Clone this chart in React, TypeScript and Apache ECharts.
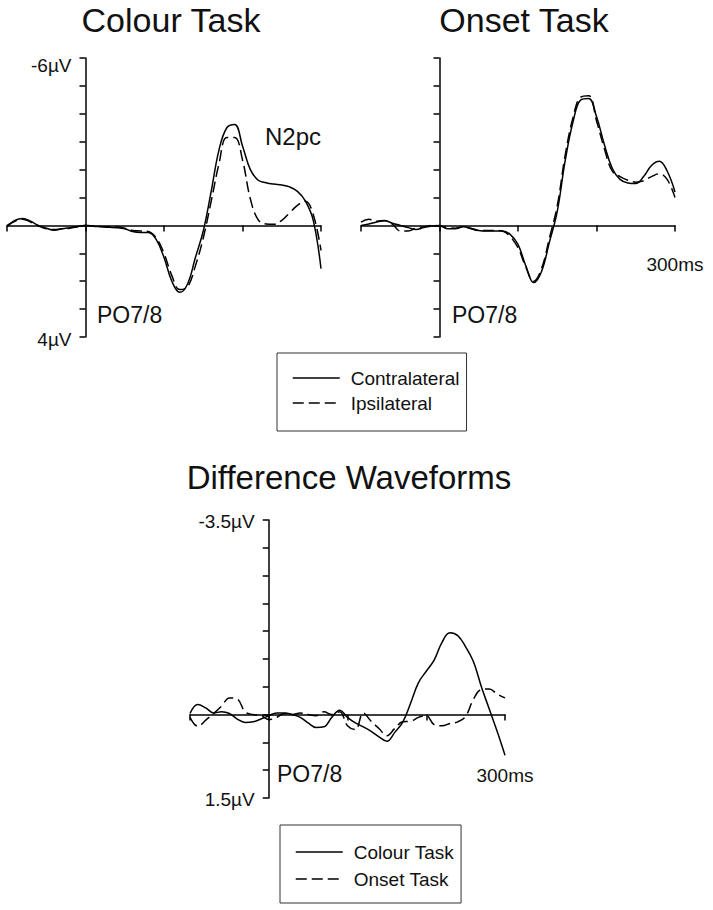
import React, { useEffect, useRef } from "react";
import * as echarts from "echarts";

// time points (ms)
const timeMs = [
  -100, -90, -80, -70, -60, -50, -40, -30, -20, -10, 0, 10, 20, 30, 40, 50, 60, 70, 80, 90, 100,
  110, 120, 130, 140, 150, 160, 170, 180, 190, 200, 210, 220, 230, 240, 250, 260, 270, 280, 290, 300,
];

// Colour Task (µV, negative plotted upward)
const colourContra = [
  0.05, -0.18, -0.25, -0.15, 0.0, 0.1, 0.17, 0.12, 0.08, 0.04, 0.0, 0.03, 0.05, 0.07, 0.08, 0.12, 0.22, 0.25, 0.25, 0.5, 1.15,
  2.0, 2.4, 2.1, 1.15, 0.2, -1.2, -2.7, -3.5, -3.62, -2.85, -2.0, -1.62, -1.53, -1.48, -1.45, -1.38, -1.22, -0.88, -0.2, 1.55,
];
const colourIpsi = [
  0.0, -0.15, -0.22, -0.12, 0.02, 0.12, 0.15, 0.12, 0.1, 0.05, 0.0, 0.02, 0.04, 0.05, 0.06, 0.1, 0.18, 0.2, 0.22, 0.45, 1.0,
  1.8, 2.3, 2.2, 1.45, 0.45, -0.85, -2.2, -3.15, -3.15, -2.35, -0.95, -0.2, -0.05, -0.04, -0.18, -0.45, -0.72, -0.87, -0.4, 0.9,
];

// Onset Task
const onsetContra = [
  0.0, -0.05, -0.12, -0.17, -0.08, 0.0, 0.08, 0.15, 0.08, 0.02, 0.0, 0.12, 0.12, 0.05, 0.1, 0.18, 0.2, 0.2, 0.2, 0.32, 0.68,
  1.45, 2.05, 1.65, 0.6, -0.5, -2.3, -3.7, -4.5, -4.55, -3.9, -2.9, -2.05, -1.65, -1.52, -1.5, -1.75, -2.15, -2.3, -1.95, -1.2,
];
const onsetIpsi = [
  -0.12, -0.22, -0.15, -0.18, -0.05, 0.2, 0.2, 0.1, 0.05, 0.0, 0.02, 0.08, 0.1, 0.05, 0.12, 0.18, 0.18, 0.18, 0.2, 0.4, 0.8,
  1.5, 2.0, 1.55, 0.45, -0.7, -2.5, -3.85, -4.6, -4.65, -3.75, -2.75, -1.95, -1.75, -1.62, -1.55, -1.6, -1.75, -1.85, -1.65, -1.0,
];

// Difference waveforms
const diffColour = [
  -0.02, -0.18, -0.12, -0.03, -0.05, -0.02, 0.08, 0.14, 0.13, 0.08, 0.02, -0.03, -0.03, 0.0, 0.05, 0.15, 0.23, 0.22, 0.05, -0.08, 0.05,
  0.15, 0.22, 0.3, 0.4, 0.48, 0.32, 0.14, -0.2, -0.57, -0.78, -0.98, -1.3, -1.47, -1.42, -1.22, -0.95, -0.5, -0.1, 0.3, 0.73,
];
const diffOnset = [
  0.05, 0.21, 0.1, -0.02, -0.15, -0.3, -0.28, -0.05, 0.0, 0.02, 0.09, 0.05, -0.02, 0.0, -0.03, 0.0, 0.02, -0.05, 0.0, -0.05, 0.2,
  0.27, -0.03, 0.12, 0.25, 0.38, 0.25, 0.13, 0.12, 0.05, 0.02, 0.18, 0.2, 0.16, 0.13, 0.03, -0.28, -0.45, -0.46, -0.37, -0.3,
];

const FONT = "'Liberation Sans', Arial, Helvetica, sans-serif";
const INK = "#111";
const DASH = [11, 5];
const T_MIN = -100;
const T_MAX = 300;

const GRIDS = [
  { left: 7, top: 58, width: 314, height: 279 },
  { left: 361, top: 58, width: 314, height: 279 },
  { left: 190, top: 520, width: 315, height: 278 },
];

const pairs = (vals: number[]) => timeMs.map((t, i) => [t, vals[i]]);

function lineSeries(name: string, vals: number[], idx: number, dashed: boolean) {
  return {
    type: "line",
    name,
    xAxisIndex: idx,
    yAxisIndex: idx,
    data: pairs(vals),
    symbol: "none",
    showSymbol: false,
    smooth: 0.4,
    silent: true,
    lineStyle: { color: "#000", width: 1.5, type: dashed ? DASH : "solid" },
    itemStyle: { color: "#000" },
  };
}

// x axis drawn at y = 0 (value axis inverse: min at top)
function xAxis(idx: number, vMin: number, vMax: number, label: string | null, margin: number) {
  const g = GRIDS[idx];
  const zeroFromBottom = ((vMax - 0) / (vMax - vMin)) * g.height;
  return {
    gridIndex: idx,
    type: "value",
    min: T_MIN,
    max: T_MAX,
    interval: 100,
    position: "bottom",
    offset: -zeroFromBottom,
    axisLine: { show: true, onZero: false, lineStyle: { color: "#000", width: 1.5 } },
    axisTick: { show: true, length: 6, lineStyle: { color: "#000", width: 1.5 } },
    axisLabel: {
      show: label !== null,
      showMaxLabel: true,
      showMinLabel: true,
      margin,
      fontSize: 19,
      fontFamily: FONT,
      color: INK,
      formatter: (v: number) => (v === T_MAX && label ? label : ""),
    },
    splitLine: { show: false },
  };
}

function yAxis(
  idx: number,
  min: number,
  max: number,
  interval: number,
  labels: { min: string; max: string } | null,
  padTop: number,
  padBottom: number
) {
  const g = GRIDS[idx];
  const zeroFromLeft = ((0 - T_MIN) / (T_MAX - T_MIN)) * g.width;
  return {
    gridIndex: idx,
    type: "value",
    min,
    max,
    interval,
    inverse: true,
    position: "left",
    offset: -zeroFromLeft,
    axisLine: { show: true, onZero: false, lineStyle: { color: "#000", width: 1.5 } },
    axisTick: { show: true, length: 6, lineStyle: { color: "#000", width: 1.5 } },
    axisLabel: {
      show: labels !== null,
      showMinLabel: true,
      showMaxLabel: true,
      margin: 14,
      fontSize: 19,
      fontFamily: FONT,
      color: INK,
      formatter: (v: number) => {
        if (!labels) return "";
        if (Math.abs(v - min) < 1e-6) return "{t|" + labels.min + "}";
        if (Math.abs(v - max) < 1e-6) return "{b|" + labels.max + "}";
        return "";
      },
      rich: {
        t: { fontSize: 19, fontFamily: FONT, color: INK, padding: [padTop, 0, 0, 0] },
        b: { fontSize: 19, fontFamily: FONT, color: INK, padding: [padBottom, 0, 0, 0] },
      },
    },
    splitLine: { show: false },
  };
}

function txt(text: string, x: number, y: number, size: number, align: string) {
  return {
    type: "text",
    x,
    y,
    silent: true,
    style: {
      text,
      fill: INK,
      fontSize: size,
      fontFamily: FONT,
      textAlign: align,
      textVerticalAlign: "middle",
      align,
      verticalAlign: "middle",
    },
  };
}

function legend(names: string[], left: number, top: number, gap: number, padTop: number, padBottom: number) {
  return {
    data: names,
    orient: "vertical",
    left,
    top,
    selectedMode: false,
    itemWidth: 47,
    itemHeight: 20,
    itemGap: gap,
    padding: [padTop, 7, padBottom, 15],
    borderColor: "#333",
    borderWidth: 1,
    backgroundColor: "#fff",
    itemStyle: { opacity: 0, borderWidth: 0 },
    lineStyle: { width: 1.5 },
    textStyle: { fontSize: 19, fontFamily: FONT, color: INK, lineHeight: 20, padding: [0, 0, 0, 6] },
  };
}

export default function App() {
  const ref = useRef<HTMLDivElement>(null);
  useEffect(() => {
    if (!ref.current) return;
    const chart = echarts.init(ref.current, null, { renderer: "svg" });
    chart.setOption({
      animation: false,
      backgroundColor: "#fff",
      grid: GRIDS.map((g) => ({ ...g, outerBoundsMode: "none", containLabel: false })),
      xAxis: [
        xAxis(0, -6, 4, null, 0),
        xAxis(1, -6, 4, "300ms", 30),
        xAxis(2, -3.5, 1.5, "300ms", 51),
      ],
      yAxis: [
        yAxis(0, -6, 4, 1, { min: "-6\u00B5V", max: "4\u00B5V" }, 14, 4),
        yAxis(1, -6, 4, 1, null, 0, 0),
        yAxis(2, -3.5, 1.5, 0.5, { min: "-3.5\u00B5V", max: "1.5\u00B5V" }, 2, 2),
      ],
      legend: [
        legend(["Contralateral", "Ipsilateral"], 277, 353, 5, 15, 18),
        legend(["Colour Task", "Onset Task"], 280, 825, 7, 17, 14),
      ],
      series: [
        lineSeries("Contralateral", colourContra, 0, false),
        lineSeries("Ipsilateral", colourIpsi, 0, true),
        lineSeries("Contralateral", onsetContra, 1, false),
        lineSeries("Ipsilateral", onsetIpsi, 1, true),
        lineSeries("Colour Task", diffColour, 2, false),
        lineSeries("Onset Task", diffOnset, 2, true),
      ],
      graphic: [
        txt("Colour Task", 171, 20, 34, "center"),
        txt("Onset Task", 524, 20, 34, "center"),
        txt("Difference Waveforms", 349, 477, 33, "center"),
        txt("N2pc", 265, 136, 24, "left"),
        txt("PO7/8", 97, 315, 23, "left"),
        txt("PO7/8", 452, 315, 23, "left"),
        txt("PO7/8", 277, 774, 23, "left"),
      ],
    });
    return () => chart.dispose();
  }, []);
  return (
    <div
      ref={ref}
      style={{ position: "absolute", left: 0, top: 0, width: 713, height: 910, background: "#fff" }}
    />
  );
}
